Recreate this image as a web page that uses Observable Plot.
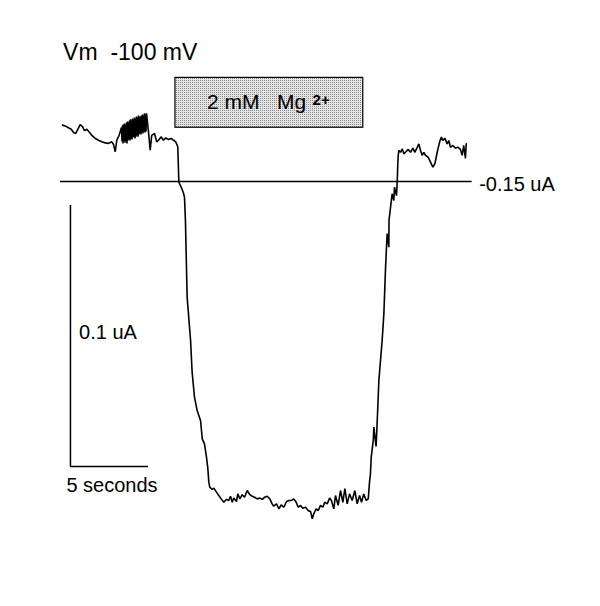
<!DOCTYPE html>
<html>
<head>
<meta charset="utf-8">
<script src="https://cdn.jsdelivr.net/npm/d3@7"></script>
<script src="https://cdn.jsdelivr.net/npm/@observablehq/plot@0.6"></script>
<style>
  body { margin: 0; background: #fff; }
</style>
</head>
<body>
<div id="chart"></div>
<script>
// Two-electrode voltage clamp trace, Vm = -100 mV. [time (s), current (uA)]
const controlTrace = [
  [0.00,-0.1284],[0.17,-0.1287],[0.38,-0.1294],[0.56,-0.1300],[0.71,-0.1312],[0.85,-0.1316],
  [0.98,-0.1300],[1.13,-0.1282],[1.28,-0.1290],[1.41,-0.1305],[1.56,-0.1300],[1.71,-0.1310],
  [1.88,-0.1323],[2.10,-0.1335],[2.31,-0.1342],[2.52,-0.1348],[2.74,-0.1352],[2.95,-0.1354],
  [3.16,-0.1348],[3.27,-0.1358],[3.38,-0.1386],[3.48,-0.1342],[3.63,-0.1323],[3.76,-0.1297]
];
const noisyControlTrace = [
  [3.782,-0.1293],[3.814,-0.1347],[3.846,-0.1285],[3.878,-0.1354],[3.910,-0.1282],[3.942,-0.1343],
  [3.974,-0.1278],[4.006,-0.1351],[4.038,-0.1282],[4.071,-0.1347],[4.103,-0.1274],[4.135,-0.1354],
  [4.167,-0.1270],[4.199,-0.1343],[4.231,-0.1274],[4.263,-0.1339],[4.295,-0.1266],[4.327,-0.1343],
  [4.359,-0.1262],[4.391,-0.1335],[4.423,-0.1266],[4.455,-0.1339],[4.487,-0.1259],[4.519,-0.1331],
  [4.551,-0.1262],[4.583,-0.1328],[4.615,-0.1255],[4.647,-0.1335],[4.679,-0.1259],[4.712,-0.1328],
  [4.744,-0.1251],[4.776,-0.1324],[4.808,-0.1255],[4.840,-0.1328],[4.872,-0.1247],[4.904,-0.1320],
  [4.936,-0.1251],[4.968,-0.1316],[5.000,-0.1251],[5.032,-0.1320],[5.064,-0.1247],[5.096,-0.1312],
  [5.128,-0.1243],[5.160,-0.1316],[5.192,-0.1247],[5.224,-0.1308],[5.256,-0.1239],[5.288,-0.1312],
  [5.321,-0.1243],[5.353,-0.1308],[5.385,-0.1239]
];
const lateControlTrace = [
  [5.51,-0.1308],[5.62,-0.1380],[5.72,-0.1323],[5.90,-0.1316],
  [6.04,-0.1348],[6.15,-0.1342],[6.33,-0.1329],[6.47,-0.1342],[6.62,-0.1333],[6.79,-0.1339],
  [6.97,-0.1335],[7.12,-0.1342],[7.26,-0.1348],[7.39,-0.1367]
];
const onsetTrace = [
  [7.46,-0.1503],[7.61,-0.1522],[7.74,-0.1541],[7.82,-0.1560],[7.88,-0.1649],[7.99,-0.1943],
  [8.21,-0.2109],[8.31,-0.2231],[8.46,-0.2326],[8.63,-0.2377],[8.85,-0.2416],[8.96,-0.2486],
  [9.10,-0.2505],[9.23,-0.2556],[9.31,-0.2595],[9.38,-0.2652],[9.44,-0.2671]
];
const magnesiumTrace = [
  [9.60,-0.2680],[9.70,-0.2675],[9.87,-0.2690],[10.02,-0.2703],[10.17,-0.2716],[10.34,-0.2729],
  [10.51,-0.2718],[10.66,-0.2722],[10.77,-0.2706],[10.88,-0.2729],[10.98,-0.2713],[11.15,-0.2726],
  [11.24,-0.2697],[11.37,-0.2716],[11.52,-0.2700],[11.67,-0.2710],[11.84,-0.2684],[12.01,-0.2700],
  [12.16,-0.2706],[12.31,-0.2710],[12.48,-0.2716],[12.65,-0.2713],[12.80,-0.2718],[12.95,-0.2710],
  [13.12,-0.2706],[13.29,-0.2716],[13.44,-0.2735],[13.54,-0.2744],[13.72,-0.2735],[13.87,-0.2754],
  [14.02,-0.2739],[14.19,-0.2748],[14.36,-0.2726],[14.51,-0.2722],[14.68,-0.2722],[14.83,-0.2716],
  [14.98,-0.2729],[15.11,-0.2748],[15.26,-0.2741],[15.40,-0.2752],[15.58,-0.2748],[15.75,-0.2761],
  [15.90,-0.2764],[16.01,-0.2792],[16.11,-0.2773],[16.26,-0.2754],[16.39,-0.2761],[16.54,-0.2741],
  [16.69,-0.2748],[16.81,-0.2729],[16.97,-0.2735],[17.12,-0.2713],[17.24,-0.2722],[17.39,-0.2754],
  [17.50,-0.2703],[17.67,-0.2741],[17.82,-0.2684],[17.97,-0.2729],[18.10,-0.2677],[18.25,-0.2735],
  [18.40,-0.2697],[18.57,-0.2722],[18.74,-0.2684],[18.89,-0.2735],[19.04,-0.2703],[19.17,-0.2729],
  [19.31,-0.2697],[19.47,-0.2722],[19.60,-0.2716]
];
const washoutTrace = [
  [19.68,-0.2652],[19.74,-0.2620],[19.79,-0.2556],[19.92,-0.2492],[19.96,-0.2441],[20.10,-0.2515],
  [20.15,-0.2454],[20.28,-0.2262],[20.49,-0.2109],[20.60,-0.2007],[20.71,-0.1828],[20.81,-0.1700],
  [20.92,-0.1752],[20.93,-0.1649],[21.03,-0.1598],[21.13,-0.1547],[21.24,-0.1573],[21.28,-0.1522],
  [21.41,-0.1554],[21.46,-0.1496],[21.49,-0.1439],[21.52,-0.1400],[21.56,-0.1381],[21.67,-0.1388],
  [21.78,-0.1375],[21.88,-0.1394],[22.03,-0.1385],[22.16,-0.1377],[22.31,-0.1388],[22.46,-0.1372],
  [22.58,-0.1388],[22.74,-0.1369],[22.84,-0.1356],[22.95,-0.1381],[23.06,-0.1400],[23.16,-0.1388],
  [23.27,-0.1400],[23.44,-0.1407],[23.59,-0.1426],[23.74,-0.1445],[23.87,-0.1432],[24.02,-0.1388],
  [24.17,-0.1349],[24.29,-0.1330],[24.38,-0.1343],[24.51,-0.1334],[24.66,-0.1356],[24.76,-0.1343],
  [24.87,-0.1369],[25.02,-0.1362],[25.19,-0.1372],[25.36,-0.1369],[25.51,-0.1377],[25.62,-0.1400],
  [25.72,-0.1362],[25.83,-0.1411],[25.88,-0.1356]
];

const holdingCurrentUA = [-0.15];
const holdingLineSpanS = [-0.13, 26.26];
const mgApplicationS = [7.24, 19.28];
const mgBoxUA = [-0.1294, -0.1103];
const scaleBarOrigin = [0.51, -0.2592];   // [s, uA]
const scaleBarSize = [5, 0.1];            // 5 seconds, 0.1 uA
const labelTexts = ["Vm\u00a0\u00a0-100 mV", "2 mM\u00a0\u00a0\u00a0Mg", "2+", "-0.15 uA", "0.1 uA", "5 seconds"];

const trace = [...controlTrace, ...noisyControlTrace, ...lateControlTrace,
               ...onsetTrace, ...magnesiumTrace, ...washoutTrace]
  .map(([t, i]) => ({t, i}));

const font = "'Liberation Sans', Arial, Helvetica, sans-serif";

const svg = Plot.plot({
  width: 600,
  height: 606,
  marginLeft: 62,
  marginRight: 70,
  marginTop: 50.5,
  marginBottom: 33.5,
  x: {domain: [0, 30], axis: null},
  y: {domain: [-0.30, -0.10], axis: null},
  style: {fontFamily: font, background: "#fff", color: "#000"},
  marks: [
    Plot.rect([0], {
      x1: () => mgApplicationS[0], x2: () => mgApplicationS[1],
      y1: () => mgBoxUA[0], y2: () => mgBoxUA[1],
      fill: "url(#stipple)", stroke: "#000", strokeWidth: 1.2
    }),
    Plot.ruleY(holdingCurrentUA, {
      x1: holdingLineSpanS[0], x2: holdingLineSpanS[1],
      stroke: "#000", strokeWidth: 1.3
    }),
    Plot.line(trace, {x: "t", y: "i", stroke: "#000", strokeWidth: 1.6, strokeLinejoin: "miter"}),
    Plot.ruleX([scaleBarOrigin[0]], {
      y1: scaleBarOrigin[1], y2: scaleBarOrigin[1] + scaleBarSize[1],
      stroke: "#000", strokeWidth: 1.5
    }),
    Plot.ruleY([scaleBarOrigin[1]], {
      x1: scaleBarOrigin[0], x2: scaleBarOrigin[0] + scaleBarSize[0],
      stroke: "#000", strokeWidth: 1.5
    }),
    Plot.text([labelTexts[0]], {x: 0.04, y: -0.1006, text: d => d, textAnchor: "start", fontSize: 23, fill: "#000"}),
    Plot.text([labelTexts[1]], {x: 9.26, y: -0.1195, text: d => d, textAnchor: "start", fontSize: 21, fill: "#000"}),
    Plot.text([labelTexts[2]], {x: 16.03, y: -0.1195, text: d => d, textAnchor: "start", fontSize: 15, fontWeight: "bold", dy: -2, fill: "#000"}),
    Plot.text([labelTexts[3]], {x: 26.71, y: -0.1511, text: d => d, textAnchor: "start", fontSize: 20, fill: "#000"}),
    Plot.text([labelTexts[4]], {x: 1.06, y: -0.2079, text: d => d, textAnchor: "start", fontSize: 20, fill: "#000"}),
    Plot.text([labelTexts[5]], {x: 0.25, y: -0.2666, text: d => d, textAnchor: "start", fontSize: 20, fill: "#000"})
  ]
});

// stippled fill for the Mg2+ application box
const defs = d3.select(svg).insert("defs", ":first-child");
const pat = defs.append("pattern")
  .attr("id", "stipple").attr("width", 2).attr("height", 2)
  .attr("patternUnits", "userSpaceOnUse");
pat.append("rect").attr("width", 2).attr("height", 2).attr("fill", "#e4e4e4");
pat.append("rect").attr("width", 1).attr("height", 1).attr("fill", "#8c8c8c");

document.getElementById("chart").appendChild(svg);
</script>
</body>
</html>
